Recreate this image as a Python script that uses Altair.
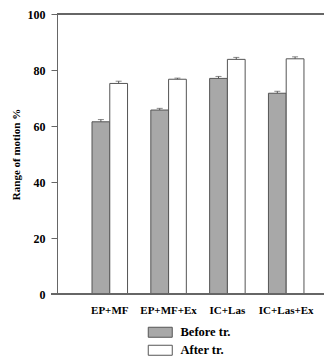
import altair as alt
import pandas as pd

groups = ["EP+MF", "EP+MF+Ex", "IC+Las", "IC+Las+Ex"]
series = ["Before tr.", "After tr."]
before = [61.5, 65.7, 77.0, 71.7]
after = [75.2, 76.7, 83.8, 84.0]
before_err = [0.8, 0.6, 0.7, 0.7]
after_err = [0.8, 0.4, 0.7, 0.7]
y_ticks = [0, 20, 40, 60, 80, 100]

rows = []
for g, b, a, be, ae in zip(groups, before, after, before_err, after_err):
    rows.append({"group": g, "series": series[0], "value": b, "upper": b + be})
    rows.append({"group": g, "series": series[1], "value": a, "upper": a + ae})
df = pd.DataFrame(rows)

FONT = "Liberation Serif"
AX = "#666666"
W, H = 267, 280

x = alt.X("group:N", sort=groups, title=None,
          scale=alt.Scale(paddingInner=0.396, paddingOuter=0.468, align=0.636),
          axis=alt.Axis(labelAngle=0, ticks=False, domain=False, labelFont=FONT,
                        labelFontSize=11, labelFontWeight="bold", labelColor="black",
                        labelPadding=10))
xo = alt.XOffset("series:N", sort=series, scale=alt.Scale(paddingInner=0, paddingOuter=0))
y = alt.Y("value:Q", scale=alt.Scale(domain=[0, 100], nice=False),
          title="Range of motion %",
          axis=alt.Axis(values=y_ticks, grid=False, domainColor=AX, tickColor=AX,
                        tickSize=6, labelPadding=6, labelFont=FONT, labelFontSize=12,
                        labelFontWeight="bold", labelColor="black", titleFont=FONT,
                        titleFontSize=11, titleFontWeight="bold", titleColor="black",
                        titlePadding=6))

color = alt.Color("series:N", sort=series,
                  scale=alt.Scale(domain=series, range=["#a8a8a8", "#ffffff"]),
                  legend=alt.Legend(title=None, orient="none", legendX=97, legendY=312,
                                    direction="vertical",
                                    symbolType="M-12,-5H12V5H-12Z", symbolSize=4,
                                    symbolStrokeColor="#555555", symbolStrokeWidth=1,
                                    labelFont=FONT, labelFontSize=12.5,
                                    labelFontWeight="bold", labelColor="black",
                                    labelOffset=14, rowPadding=3))

base = alt.Chart(df)
bars = base.mark_bar(stroke="#555555", strokeWidth=1).encode(x=x, xOffset=xo, y=y, color=color)
err = base.mark_rule(color="#555555", strokeWidth=1).encode(
    x=alt.X("group:N", sort=groups), xOffset=alt.XOffset("series:N", sort=series),
    y="value:Q", y2="upper:Q")
cap = base.mark_tick(color="#555555", size=6, thickness=1).encode(
    x=alt.X("group:N", sort=groups), xOffset=alt.XOffset("series:N", sort=series),
    y="upper:Q")
bottom = base.mark_rule(color=AX, strokeWidth=1).encode(
    x=alt.value(-6), x2=alt.value(W), y=alt.value(H))
top = base.mark_rule(color=AX, strokeWidth=1).encode(
    x=alt.value(0), x2=alt.value(W), y=alt.value(0))

chart = alt.layer(bars, err, cap, bottom, top).properties(
    width=W, height=H,
    autosize=alt.AutoSizeParams(type="none"),
    padding={"left": 49, "top": 6, "right": 0, "bottom": 64},
).configure_view(stroke=None)

chart.save("out.html", embed_options={"renderer": "svg", "actions": False})
